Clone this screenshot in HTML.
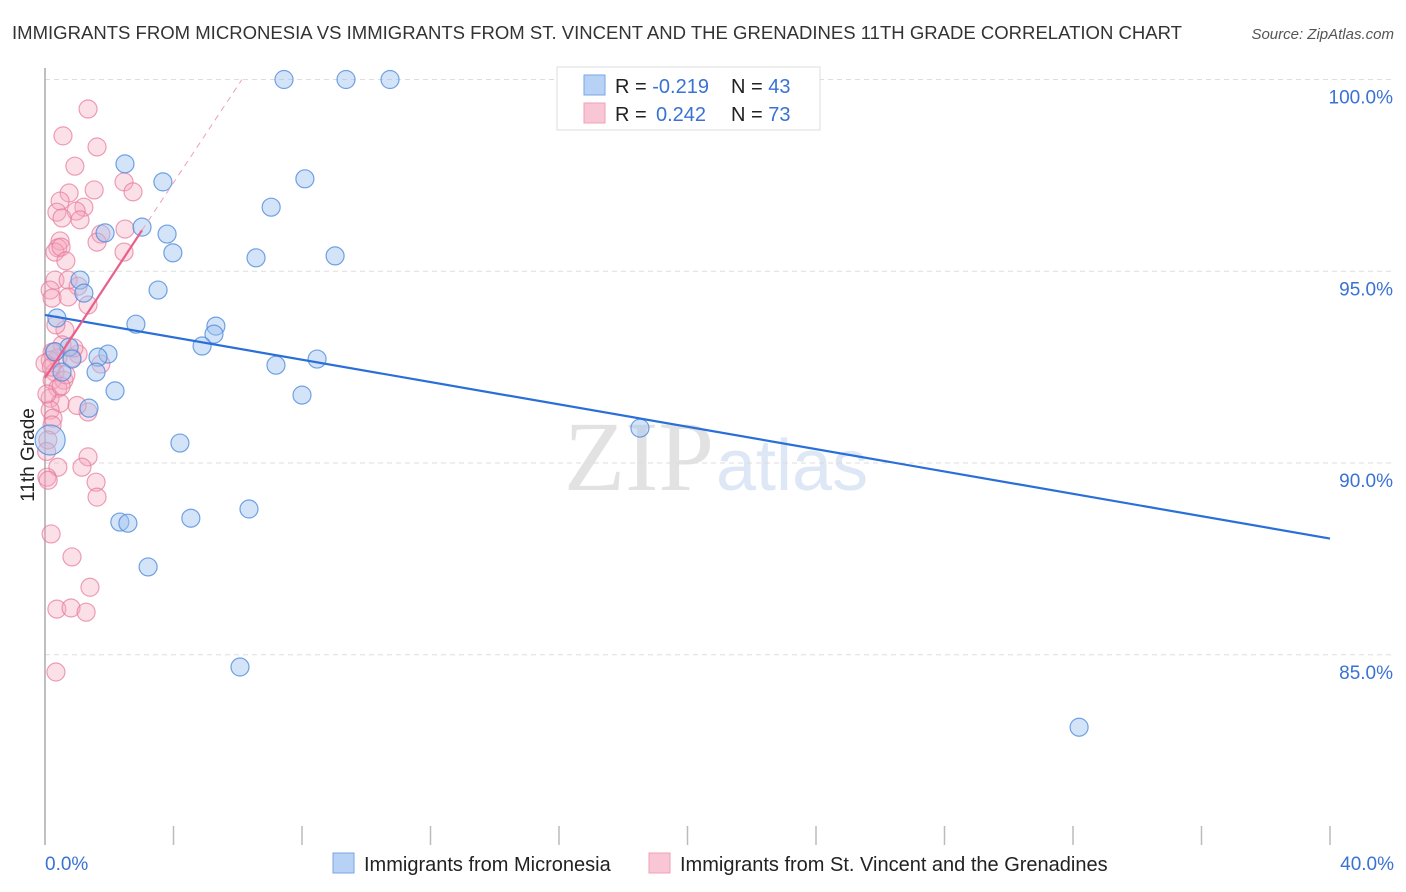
<!DOCTYPE html>
<html><head><meta charset="utf-8"><style>
body{margin:0;background:#fff;font-family:"Liberation Sans",sans-serif;}
#c{position:relative;width:1406px;height:892px;overflow:hidden;}
</style></head><body>
<div id="c">
<svg id="svg" width="1406" height="892" xmlns="http://www.w3.org/2000/svg">
<text x="12" y="39" font-size="18" fill="#333" textLength="1170" lengthAdjust="spacingAndGlyphs">IMMIGRANTS FROM MICRONESIA VS IMMIGRANTS FROM ST. VINCENT AND THE GRENADINES 11TH GRADE CORRELATION CHART</text>
<text x="1394" y="39" font-size="15" fill="#555" font-style="italic" text-anchor="end">Source: ZipAtlas.com</text>
<text x="714" y="490" font-size="100" fill="#e2e2e2" text-anchor="end" font-family="Liberation Serif,serif">ZIP</text>
<text x="716" y="490" font-size="72" fill="#dde7f5">atlas</text>
<text transform="translate(34,455) rotate(-90)" font-size="19" fill="#222" text-anchor="middle">11th Grade</text>
<g id="grid"></g><g id="pts"></g><g id="lines"></g>
<rect x="557" y="67" width="263" height="63" fill="#fff" stroke="#ddd"/>
<rect x="584" y="75" width="21" height="20" fill="#b8d2f5" stroke="#7aa6e6"/>
<rect x="584" y="103" width="21" height="20" fill="#f9c6d5" stroke="#efa0b8"/>
<text x="615" y="93" font-size="20" fill="#222">R = <tspan fill="#3a72d4">-0.219</tspan><tspan x="731">N = </tspan><tspan fill="#3a72d4">43</tspan></text>
<text x="615" y="121" font-size="20" fill="#222">R = <tspan x="656" fill="#3a72d4">0.242</tspan><tspan x="731">N = </tspan><tspan fill="#3a72d4">73</tspan></text>
<rect x="333" y="853" width="21" height="20" fill="#b8d2f5" stroke="#7aa6e6"/>
<text x="364" y="871" font-size="20" fill="#222">Immigrants from Micronesia</text>
<rect x="649" y="853" width="21" height="20" fill="#f9c6d5" stroke="#efa0b8"/>
<text x="680" y="871" font-size="20" fill="#222">Immigrants from St. Vincent and the Grenadines</text>
<text x="45" y="870" font-size="19" fill="#3a72d4">0.0%</text>
<text x="1394" y="870" font-size="19" fill="#3a72d4" text-anchor="end">40.0%</text>
</svg>
</div>
<script>
const yTicks=[100,95,90,85];
const yTickLabels=["100.0%","95.0%","90.0%","85.0%"];
const xTicks=[0,4,8,12,16,20,24,28,32,36,40];
const blueX=[7.44,9.37,10.74,2.49,3.67,8.09,7.04,3.02,3.80,1.87,3.98,6.57,9.03,1.09,1.21,3.52,2.83,5.32,5.26,4.89,0.37,0.75,1.96,1.65,7.19,8.47,0.84,1.59,0.53,2.18,8.00,1.37,4.20,18.52,2.33,2.58,4.54,6.35,3.21,6.07,32.19,0.16,0.31];
const blueY=[100,100,100,97.80,97.33,97.41,96.67,96.15,95.97,96.00,95.48,95.35,95.40,94.77,94.43,94.51,93.62,93.57,93.36,93.05,93.78,93.02,92.84,92.76,92.55,92.71,92.71,92.37,92.37,91.88,91.77,91.43,90.52,90.91,88.46,88.43,88.56,88.80,87.29,84.68,83.11,90.60,92.9];
const pinkX=[1.34,0.56,1.62,0.93,2.46,0.75,2.74,1.53,0.47,1.21,0.37,0.97,1.09,0.53,1.74,2.49,1.62,0.47,0.40,0.31,0.50,2.46,0.65,0.31,0.72,0.16,1.03,0.22,0.72,1.34,0.62,0.53,0.22,0.40,1.03,0.16,0.84,1.74,0.31,0.22,0.59,0.40,0.16,0.47,0.16,1.34,0.25,0.22,0.09,1.34,0.40,1.15,0.06,1.59,1.62,0.19,0.84,1.40,0.37,0.81,1.28,0.34,0,0.06,0.65,0.9,0.34,0.1,0.5,0.2,1.0,0.3,0.05];
const pinkY=[99.23,98.53,98.24,97.74,97.33,97.04,97.07,97.12,96.83,96.67,96.54,96.57,96.34,96.39,95.97,96.10,95.76,95.79,95.61,95.50,95.63,95.50,95.27,94.77,94.77,94.51,94.61,94.30,94.33,94.12,93.47,93.08,92.89,92.74,92.84,92.68,92.74,92.58,92.37,92.16,92.16,91.95,91.69,91.56,91.38,91.33,91.17,90.99,90.60,90.16,89.89,89.89,89.63,89.50,89.11,88.15,87.55,86.76,86.19,86.22,86.11,84.55,92.6,91.8,92.3,93.0,93.6,89.55,92.0,92.5,91.5,92.9,90.3];
const blueTrend=[[0,93.86],[40,88.03]];
const pinkTrend=[[0,92.22],[3.02,96.07]];
const pinkDash=[[3.02,96.07],[6.13,100]];
const NS="http://www.w3.org/2000/svg";
const sx=v=>45+v/40*1285;
const sy=v=>79.5+(100-v)*38.35;
function mk(t,a,p){const e=document.createElementNS(NS,t);for(const k in a)e.setAttribute(k,a[k]);p.appendChild(e);return e;}
const grid=document.getElementById('grid');
yTicks.forEach((t,i)=>{
 const l=mk('line',{x1:45,x2:1394,y1:sy(t),y2:sy(t),stroke:'#ddd','stroke-dasharray':'5,4'},grid);
 
 
 const tx=mk('text',{x:1393,y:sy(t)+24,'font-size':19,fill:'#3a72d4','text-anchor':'end'},grid);
 tx.textContent=yTickLabels[i];
 
 
});
const ax=mk('line',{x1:45,x2:45,y1:68,y2:845,stroke:'#aaa','stroke-width':1.5},grid);


xTicks.forEach(t=>{
 const l=mk('line',{x1:sx(t),x2:sx(t),y1:826,y2:845,stroke:'#bbb','stroke-width':1.5},grid);
 
 
});
const pts=document.getElementById('pts');
pinkX.forEach((x,i)=>{
 const c=mk('circle',{cx:sx(x),cy:sy(pinkY[i]),r:9,fill:'rgba(245,165,190,0.35)',stroke:'rgba(230,120,155,0.7)','stroke-width':1.2},pts);
 
 
});
blueX.forEach((x,i)=>{
 const c=mk('circle',{cx:sx(x),cy:sy(blueY[i]),r:i==41?15:9,fill:'rgba(160,195,240,0.45)',stroke:'rgba(80,140,220,0.8)','stroke-width':1.2},pts);
 
 
});
const lines=document.getElementById('lines');
const bl=mk('line',{x1:sx(blueTrend[0][0]),y1:sy(blueTrend[0][1]),x2:sx(blueTrend[1][0]),y2:sy(blueTrend[1][1]),stroke:'#2a6fd8','stroke-width':2.2},lines);


const pl=mk('line',{x1:sx(pinkTrend[0][0]),y1:sy(pinkTrend[0][1]),x2:sx(pinkTrend[1][0]),y2:sy(pinkTrend[1][1]),stroke:'#e8608a','stroke-width':2.2},lines);


const pd=mk('line',{x1:sx(pinkDash[0][0]),y1:sy(pinkDash[0][1]),x2:sx(pinkDash[1][0]),y2:sy(pinkDash[1][1]),stroke:'#eea0b8','stroke-width':1,'stroke-dasharray':'6,5'},lines);


</script>
</body></html>
